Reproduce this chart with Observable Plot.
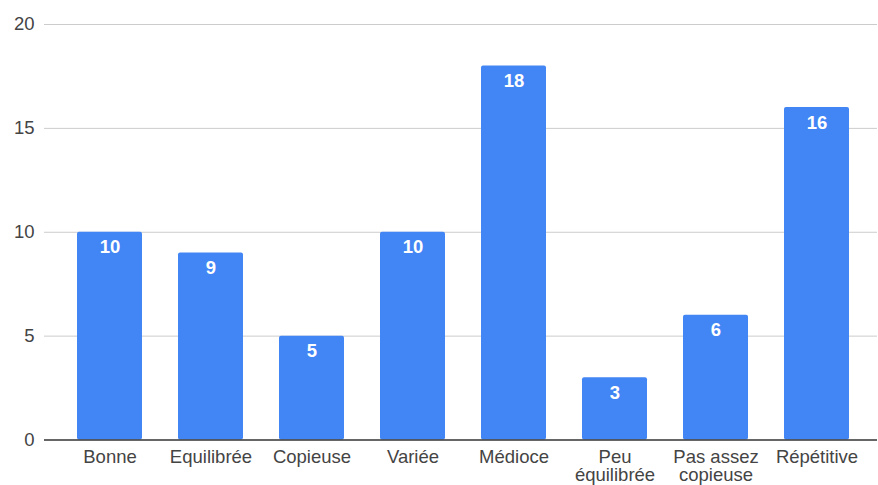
<!DOCTYPE html>
<html>
<head>
<meta charset="utf-8">
<script src="https://cdn.jsdelivr.net/npm/d3@7"></script>
<script src="https://cdn.jsdelivr.net/npm/@observablehq/plot@0.6"></script>
<style>
  html, body { margin: 0; padding: 0; background: #fff; }
  #chart svg { display: block; }
</style>
</head>
<body>
<div id="chart"></div>
<script>
const categories = ["Bonne", "Equilibrée", "Copieuse", "Variée", "Médioce", "Peu\néquilibrée", "Pas assez\ncopieuse", "Répétitive"];
const values = [10, 9, 5, 10, 18, 3, 6, 16];
const yTicks = [0, 5, 10, 15, 20];

const data = categories.map((c, i) => ({category: c, value: values[i]}));

const chart = Plot.plot({
  width: 878,
  height: 485,
  marginLeft: 44,
  marginRight: 1,
  marginTop: 24,
  marginBottom: 45.5,
  style: {fontFamily: "'Liberation Sans', Arial, sans-serif", fontSize: "18.5px", color: "#444", background: "#fff"},
  x: {domain: categories, paddingInner: 0.354, paddingOuter: 0.177, insetLeft: 15, insetRight: 9, label: null},
  y: {domain: [0, 20], label: null},
  marks: [
    Plot.ruleY(yTicks.filter(d => d !== 0), {stroke: "#cccccc", strokeWidth: 1}),
    Plot.axisY({ticks: yTicks, tickSize: 0, tickPadding: 10, fontSize: 18.5, fill: "#444", label: null}),
    Plot.axisX({tickSize: 0, tickPadding: 11, fontSize: 18.5, fill: "#444", label: null, lineHeight: 0.95}),
    Plot.barY(data, {x: "category", y: "value", fill: "#4285F4", rx: 2}),
    Plot.ruleY([0], {stroke: "#333", strokeWidth: 1.5}),
    Plot.text(data, {x: "category", y: "value", text: d => String(d.value), dy: 15, fill: "#ffffff", fontWeight: "bold", fontSize: 18.5, lineAnchor: "middle"})
  ]
});
document.getElementById("chart").appendChild(chart);
</script>
</body>
</html>
